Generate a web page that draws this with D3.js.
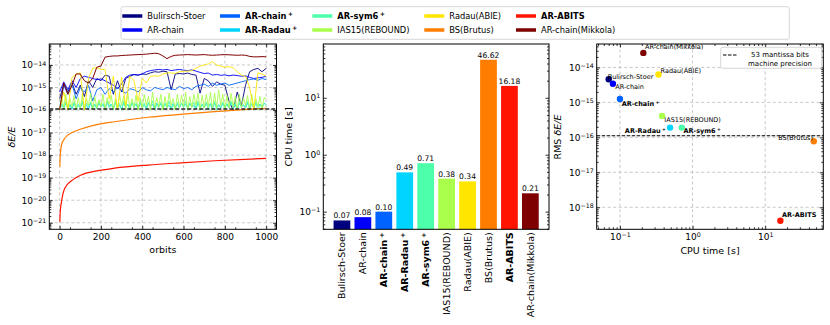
<!DOCTYPE html>
<html><head><meta charset="utf-8">
<script src="https://cdn.jsdelivr.net/npm/d3@7"></script>
<style>
body{margin:0;background:#fff;}
svg{font-family:"DejaVu Sans",sans-serif;}
</style></head><body><svg id="c" width="830" height="325"></svg>
<script>
// ---------------- DATA ----------------
const methods = ["Bulirsch-Stoer","AR-chain","AR-chain","AR-Radau","AR-sym6","IAS15(REBOUND)","Radau(ABIE)","BS(Brutus)","AR-ABITS","AR-chain(Mikkola)"];
const hasPlus = [false,false,true,true,true,false,false,false,false,false];
const isBold  = [false,false,true,true,true,false,false,false,true,false];
const colors  = ["#00007f","#0000fa","#0063ff","#00d4ff","#4dffaa","#aaff4d","#ffe600","#ff7d00","#ff1400","#7f0000"];
const cpuTime = [0.07,0.08,0.10,0.49,0.71,0.38,0.34,46.62,16.18,0.21];
const rmsErr  = [4.6e-15,3.4e-15,1.25e-15,1.9e-16,1.9e-16,4.1e-16,6.3e-15,7.7e-17,4.1e-19,2.6e-14];
const machinePrecision = 1.11e-16;

const orbitsCoarse = [0,20,40,60,80,100,120,140,160,180,200,220,240,260,280,300,320,340,360,380,400,420,440,460,480,500,520,540,560,580,600,620,640,660,680,700,720,740,760,780,800,820,840,860,880,900,920,940,960,980,1000];
const orbitsFine = [0,10,20,30,40,50,60,70,80,90,100,110,120,130,140,150,160,170,180,190,200,210,220,230,240,250,260,270,280,290,300,310,320,330,340,350,360,370,380,390,400,410,420,430,440,450,460,470,480,490,500,510,520,530,540,550,560,570,580,590,600,610,620,630,640,650,660,670,680,690,700,710,720,730,740,750,760,770,780,790,800,810,820,830,840,850,860,870,880,890,900,910,920,930,940,950,960,970,980,990,1000];
const orbitsSmooth = [1,3,9,25,60,104,180,266,428,589,750,1000];

// log10(dE/E)
const logBS = [-15.5,-14.85,-15.2,-14.8,-15.3,-14.9,-15.4,-14.7,-15.0,-14.6,-14.7,-14.45,-14.5,-15.3,-14.7,-15.2,-14.6,-14.5,-14.43,-14.45,-14.4,-14.42,-14.35,-14.3,-14.32,-14.28,-14.3,-15.1,-14.4,-14.38,-14.4,-14.36,-14.42,-14.45,-15.25,-14.6,-14.7,-14.95,-14.75,-14.85,-14.9,-15.6,-16,-15.2,-15.8,-14.9,-14.3,-14.2,-14.15,-14.3,-14.15];
const logARchain = [-15.2,-14.75,-15.1,-14.7,-15.0,-14.6,-14.5,-14.55,-14.6,-14.65,-14.62,-14.7,-14.8,-14.9,-15.05,-14.85,-14.55,-14.45,-14.42,-14.45,-14.4,-14.3,-14.25,-14.22,-14.2,-14.22,-14.2,-14.25,-14.22,-14.2,-14.23,-14.25,-14.22,-14.27,-14.33,-14.38,-14.36,-14.45,-14.42,-14.46,-14.44,-14.48,-14.45,-14.47,-14.5,-14.48,-14.55,-14.6,-14.57,-14.55,-14.5];
const logARchainP = [-16,-14.9,-15.3,-14.85,-15.5,-15.0,-15.2,-14.9,-15.6,-15.1,-15.0,-15.3,-15.05,-15.2,-15.0,-15.15,-15.25,-15.05,-15.1,-15.2,-15.0,-15.1,-15.15,-15.0,-15.05,-15.1,-15.0,-15.05,-15.1,-14.95,-15.05,-15.0,-15.1,-14.95,-14.9,-14.85,-14.95,-14.8,-14.9,-14.85,-14.8,-14.9,-14.85,-14.8,-14.75,-14.7,-14.65,-14.62,-14.68,-14.6,-14.65];
const logARradauP = [-16,-15.75,-15.9,-15.7,-15.85,-15.8,-15.95,-15.7,-15.85,-15.75,
 -15.9,-15.7,-15.85,-15.8,-15.95,-15.7,-15.85,-15.75,-15.9,-15.7,
 -15.85,-15.75,-15.95,-15.7,-15.8,-15.75,-15.9,-15.7,-15.85,-15.8,
 -15.95,-15.7,-15.85,-15.75,-15.9,-15.7,-15.8,-15.75,-15.95,-15.7,
 -15.85,-15.8,-15.9,-15.7,-15.85,-15.75,-15.95,-15.7,-15.8,-15.75,
 -15.9,-15.7,-15.85,-15.8,-15.95,-15.7,-15.85,-15.75,-15.9,-15.7,
 -15.8,-15.75,-15.9,-15.7,-15.85,-15.8,-15.95,-15.7,-15.85,-15.75,
 -15.9,-15.7,-15.8,-15.75,-15.95,-15.7,-15.85,-15.8,-15.9,-15.7,
 -15.85,-15.75,-15.9,-15.7,-15.8,-15.75,-15.95,-15.7,-15.85,-15.8,
 -15.9,-15.7,-15.85,-15.75,-15.9,-15.7,-15.8,-15.75,-15.85,-15.7,-15.75];
const logARsym6P = [-16,-15.7,-15.95,-15.6,-16,-15.75,-15.9,-15.65,-16,-15.8,
 -15.9,-15.6,-16,-15.7,-15.85,-15.65,-16,-15.75,-15.95,-15.6,
 -15.85,-15.7,-16,-15.6,-15.9,-15.75,-16,-15.65,-15.9,-15.7,
 -16,-15.6,-15.85,-15.75,-16,-15.65,-15.9,-15.7,-15.95,-15.6,
 -15.9,-15.7,-16,-15.65,-15.85,-15.6,-16,-15.75,-15.9,-15.65,
 -16,-15.7,-15.9,-15.6,-15.95,-15.75,-16,-15.65,-15.85,-15.7,
 -15.9,-15.6,-16,-15.7,-15.85,-15.65,-15.95,-15.6,-16,-15.75,
 -15.9,-15.65,-16,-15.7,-15.85,-15.6,-16,-15.75,-15.9,-15.65,
 -16,-15.7,-15.9,-15.6,-15.95,-15.7,-16,-15.65,-15.85,-15.75,
 -15.9,-15.6,-16,-15.7,-15.85,-15.65,-16,-15.75,-15.9,-15.7,-15.8];
const logIAS15 = [-16,-15.4,-15.9,-15.3,-16,-15.5,-15.85,-15.35,-16,-15.45,
 -15.9,-15.3,-15.95,-15.5,-15.8,-15.25,-16,-15.4,-15.9,-15.55,
 -15.85,-15.3,-16,-15.45,-15.75,-15.35,-15.95,-15.5,-16,-15.3,
 -15.8,-15.4,-16,-15.25,-15.9,-15.5,-15.85,-15.35,-16,-15.45,
 -15.9,-15.3,-15.8,-15.4,-16,-15.2,-15.9,-15.45,-15.85,-15.3,
 -16,-15.4,-15.9,-15.25,-15.8,-15.5,-16,-15.3,-15.9,-15.35,
 -15.85,-15.2,-16,-15.4,-15.9,-15.3,-15.8,-15.25,-16,-15.35,
 -15.9,-15.3,-15.85,-15.2,-16,-15.25,-15.9,-15.1,-15.8,-15.3,
 -16,-15.35,-15.9,-15.25,-15.85,-15.4,-16,-15.3,-15.9,-15.45,
 -15.8,-15.35,-16,-15.3,-15.9,-15.5,-15.85,-15.4,-16,-15.45,-15.5];
const logRadau = [-16,-15.2,-16,-14.55,-14.4,-14.35,-16,-14.6,-14.15,-14.12,-14.2,-14.2,-15.5,-14.5,-16,-14.55,-15.8,-14.5,-14.7,-15.6,-14.6,-14.8,-14.5,-14.48,-14.5,-14.4,-14.36,-14.35,-14.38,-14.3,-14.28,-14.27,-14.25,-14.15,-14.05,-14.0,-13.95,-13.85,-14.0,-14.05,-14.1,-14.08,-14.12,-14.3,-14.45,-14.5,-15.0,-16,-14.35,-14.4,-14.5];
const logBrutus = [-18.51,-18.0,-17.55,-17.25,-17.0,-16.84,-16.65,-16.52,-16.32,-16.19,-16.07,-15.92];
const logABITS  = [-20.96,-20.51,-20.07,-19.47,-19.12,-18.88,-18.7,-18.58,-18.44,-18.34,-18.25,-18.14];
const logMikkola = [-16,-14.8,-15.3,-14.9,-14.4,-14.4,-14.7,-14.8,-14.6,-14.1,-14.05,-13.65,-13.62,-13.6,-13.6,-13.58,-13.57,-13.56,-13.55,-13.54,-13.53,-13.52,-13.5,-13.48,-13.5,-13.6,-13.72,-13.62,-13.57,-13.56,-13.55,-13.54,-13.55,-13.56,-13.55,-13.54,-13.56,-13.57,-13.56,-13.55,-13.54,-13.55,-13.56,-13.57,-13.56,-13.57,-13.62,-13.64,-13.64,-13.63,-13.64];

const xTicksOrbits = [0,200,400,600,800,1000];

// ---------------- DRAW ----------------
const svg = d3.select("#c");
const MINUS = "\u2212";

function majorsMinors(lo, hi){
  const maj=[], min=[];
  for(let d=Math.floor(Math.log10(lo))-1; d<=Math.ceil(Math.log10(hi)); d++){
    const v=Math.pow(10,d);
    if(v>=lo*0.9999 && v<=hi*1.0001) maj.push(v);
    for(let k=2;k<=9;k++){const m=k*v; if(m>=lo && m<=hi) min.push(m);}
  }
  return {maj,min};
}
function powLabel(text, v, fs){
  const e=Math.round(Math.log10(v));
  text.text("");
  text.append("tspan").text("10");
  text.append("tspan").attr("dy","-0.45em").attr("font-size",(fs*0.7)+"px").text(e<0?MINUS+(-e):String(e));
}
function ticks(g, axisFn, scale, vals, size, pad, labelFn, fs){
  const ax=axisFn(scale).tickValues(vals).tickSizeInner(-size).tickSizeOuter(0).tickPadding(pad)
    .tickFormat(labelFn?(()=>"x"):(()=>""));
  g.call(ax);
  g.select(".domain").remove();
  g.selectAll(".tick line").attr("stroke","#000").attr("stroke-width",0.8);
  g.selectAll("text").attr("font-family","DejaVu Sans").attr("font-size",fs+"px").attr("fill","#000");
  if(labelFn) g.selectAll(".tick text").each(function(d){labelFn(d3.select(this),d);});
  return g;
}
function grid(g, xs, ys, x, y, X0,X1,Y0,Y1){
  g.selectAll(null).data(xs).enter().append("line")
    .attr("x1",d=>x(d)).attr("x2",d=>x(d)).attr("y1",Y0).attr("y2",Y1)
    .attr("stroke","#b0b0b0").attr("stroke-width",0.7).attr("stroke-dasharray","3,2.5");
  g.selectAll(null).data(ys).enter().append("line")
    .attr("y1",d=>y(d)).attr("y2",d=>y(d)).attr("x1",X0).attr("x2",X1)
    .attr("stroke","#b0b0b0").attr("stroke-width",0.7).attr("stroke-dasharray","3,2.5");
}
function logAxes(g, scale, side, X0,X1,Y0,Y1, labels, fs){
  const d=scale.domain(); const mm=majorsMinors(Math.min(d[0],d[1]),Math.max(d[0],d[1]));
  if(side==="y"){
    ticks(g.append("g").attr("transform",`translate(${X0},0)`), d3.axisLeft, scale, mm.maj, 3.5, 3, labels?(t,v)=>powLabel(t,v,fs):null, fs);
    ticks(g.append("g").attr("transform",`translate(${X0},0)`), d3.axisLeft, scale, mm.min, 2, 3, null, fs);
    ticks(g.append("g").attr("transform",`translate(${X1},0)`), d3.axisRight, scale, mm.maj, 3.5, 3, null, fs);
    ticks(g.append("g").attr("transform",`translate(${X1},0)`), d3.axisRight, scale, mm.min, 2, 3, null, fs);
  } else {
    ticks(g.append("g").attr("transform",`translate(0,${Y1})`), d3.axisBottom, scale, mm.maj, 3.5, 4, labels?(t,v)=>powLabel(t,v,fs):null, fs);
    ticks(g.append("g").attr("transform",`translate(0,${Y1})`), d3.axisBottom, scale, mm.min, 2, 4, null, fs);
    ticks(g.append("g").attr("transform",`translate(0,${Y0})`), d3.axisTop, scale, mm.maj, 3.5, 4, null, fs);
    ticks(g.append("g").attr("transform",`translate(0,${Y0})`), d3.axisTop, scale, mm.min, 2, 4, null, fs);
  }
  return mm;
}
function frame(X0,X1,Y0,Y1){
  svg.append("rect").attr("x",X0).attr("y",Y0).attr("width",X1-X0).attr("height",Y1-Y0)
    .attr("fill","none").attr("stroke","#000").attr("stroke-width",1);
}
function methodText(t, i, fs){
  t.append("tspan").attr("font-weight",isBold[i]?"bold":"normal").text(methods[i]);
  if(hasPlus[i]) t.append("tspan").attr("font-weight","bold").attr("dx",(fs*0.2)+"px").attr("dy","-0.45em").attr("font-size",(fs*0.7)+"px").text("+");
}
const TICK_FS=9;

// ===== Panel 1: dE/E vs orbits =====
{
  const X0=49.3,X1=276.5,Y0=44,Y1=229.3;
  const x=d3.scaleLinear().domain([-50,1050]).range([X0,X1]);
  const y=d3.scaleLog().domain([Math.pow(10,-21.29),Math.pow(10,-13.07)]).range([Y1,Y0]);
  const g=svg.append("g");
  const mm=majorsMinors(y.domain()[0],y.domain()[1]);
  grid(g, xTicksOrbits, mm.maj, x, y, X0,X1,Y0,Y1);
  svg.append("clipPath").attr("id","clip1").append("rect").attr("x",X0).attr("y",Y0).attr("width",X1-X0).attr("height",Y1-Y0);
  const lines=svg.append("g").attr("clip-path","url(#clip1)");
  const series=[
    [orbitsCoarse,logBS,0,0.9],[orbitsCoarse,logARchain,1,0.9],[orbitsCoarse,logARchainP,2,0.9],
    [orbitsFine,logARradauP,3,0.9],[orbitsFine,logARsym6P,4,0.9],[orbitsFine,logIAS15,5,0.9],
    [orbitsCoarse,logRadau,6,0.9],[orbitsSmooth,logBrutus,7,1.2],[orbitsSmooth,logABITS,8,1.2],[orbitsCoarse,logMikkola,9,1.0]
  ];
  const line=d3.line().x(d=>x(d[0])).y(d=>y(Math.pow(10,d[1]))).curve(d3.curveMonotoneX);
  const lineL=d3.line().x(d=>x(d[0])).y(d=>y(Math.pow(10,d[1])));
  series.forEach(([xs,ys,ci,w])=>{
    const pts=xs.map((o,k)=>[o,ys[k]]);
    lines.append("path").attr("d",(ci===7||ci===8)?line(pts):lineL(pts)).attr("fill","none")
      .attr("stroke",colors[ci]).attr("stroke-width",w).attr("stroke-linejoin","round");
  });
  lines.append("line").attr("x1",X0).attr("x2",X1).attr("y1",y(machinePrecision)).attr("y2",y(machinePrecision))
    .attr("stroke","#222").attr("stroke-width",1.4).attr("stroke-dasharray","4,2");
  logAxes(g, y, "y", X0,X1,Y0,Y1, true, TICK_FS);
  const xmin=[]; for(let v=50; v<1050; v+=100) xmin.push(v);
  ticks(g.append("g").attr("transform",`translate(0,${Y1})`), d3.axisBottom, x, xTicksOrbits, 3.5, 4, (t,v)=>t.text(v), TICK_FS);
  ticks(g.append("g").attr("transform",`translate(0,${Y1})`), d3.axisBottom, x, xmin, 2, 4, null, TICK_FS);
  ticks(g.append("g").attr("transform",`translate(0,${Y0})`), d3.axisTop, x, xTicksOrbits, 3.5, 4, null, TICK_FS);
  ticks(g.append("g").attr("transform",`translate(0,${Y0})`), d3.axisTop, x, xmin, 2, 4, null, TICK_FS);
  frame(X0,X1,Y0,Y1);
  svg.append("text").attr("x",(X0+X1)/2).attr("y",253).attr("text-anchor","middle").attr("font-size","9.5px").text("orbits");
  svg.append("text").attr("transform",`translate(15,137) rotate(-90)`).attr("text-anchor","middle")
    .attr("font-size","9.5px").attr("font-style","italic").text("\u03b4E/E");
}

// ===== Panel 2: CPU time bars =====
{
  const X0=323.3,X1=549,Y0=44,Y1=229.3;
  const x=d3.scaleLinear().domain([-0.89,9.89]).range([X0,X1]);
  const y=d3.scaleLog().domain([Math.pow(10,-1.31),Math.pow(10,1.945)]).range([Y1,Y0]);
  const g=svg.append("g");
  const bw=x(0.8)-x(0);
  g.selectAll("rect.bar").data(cpuTime).enter().append("rect").attr("class","bar")
    .attr("x",(d,i)=>x(i)-bw/2).attr("width",bw).attr("y",d=>y(d)).attr("height",d=>Y1-y(d))
    .attr("fill",(d,i)=>colors[i]);
  g.selectAll("text.val").data(cpuTime).enter().append("text").attr("class","val")
    .attr("x",(d,i)=>x(i)).attr("y",d=>y(d)-2).attr("text-anchor","middle").attr("font-size","7.6px")
    .text(d=>d.toFixed(2));
  logAxes(g, y, "y", X0,X1,Y0,Y1, true, TICK_FS);
  frame(X0,X1,Y0,Y1);
  methods.forEach((m,i)=>{
    const t=svg.append("text").attr("transform",`translate(${x(i)},${Y1+3}) rotate(-90)`)
      .attr("text-anchor","end").attr("dy","0.35em").attr("font-size","9.5px");
    methodText(t,i,9.5);
  });
  svg.append("text").attr("transform",`translate(292,137) rotate(-90)`).attr("text-anchor","middle")
    .attr("font-size","9.5px").text("CPU time [s]");
}

// ===== Panel 3: RMS vs CPU =====
{
  const X0=596.7,X1=823.3,Y0=44,Y1=229.3;
  const x=d3.scaleLog().domain([Math.pow(10,-1.32),Math.pow(10,1.80)]).range([X0,X1]);
  const y=d3.scaleLog().domain([Math.pow(10,-18.63),Math.pow(10,-13.33)]).range([Y1,Y0]);
  const g=svg.append("g");
  const mx=majorsMinors(x.domain()[0],x.domain()[1]), my=majorsMinors(y.domain()[0],y.domain()[1]);
  grid(g, mx.maj, my.maj, x, y, X0,X1,Y0,Y1);
  g.append("line").attr("x1",X0).attr("x2",X1).attr("y1",y(machinePrecision)).attr("y2",y(machinePrecision))
    .attr("stroke","#000").attr("stroke-width",1.1).attr("stroke-dasharray","3.5,1.5");
  logAxes(g, y, "y", X0,X1,Y0,Y1, true, TICK_FS);
  logAxes(g, x, "x", X0,X1,Y0,Y1, true, TICK_FS);
  frame(X0,X1,Y0,Y1);
  g.selectAll("circle").data(cpuTime).enter().append("circle")
    .attr("cx",d=>x(d)).attr("cy",(d,i)=>y(rmsErr[i])).attr("r",3.2).attr("fill",(d,i)=>colors[i]);
  // label offsets [dx, dy, anchor]
  const off=[[-1,-2.3,"start"],[2.4,3.4,"start"],[1.7,4.3,"start"],[-4.3,3,"end"],[1.7,3.4,"start"],
             [2.3,4,"start"],[2,-3.6,"start"],[-0.7,-4,"end"],[1.7,-5.7,"start"],[1.7,-5.7,"start"]];
  methods.forEach((m,i)=>{
    const t=svg.append("text").attr("x",x(cpuTime[i])+off[i][0]).attr("y",y(rmsErr[i])+off[i][1])
      .attr("dy","0.35em").attr("text-anchor",off[i][2]).attr("font-size","6.5px");
    methodText(t,i,6.5);
  });
  // legend
  svg.append("rect").attr("x",720.7).attr("y",47.3).attr("width",101).attr("height",21).attr("rx",2)
    .attr("fill","#fff").attr("stroke","#ccc").attr("stroke-width",0.8);
  svg.append("line").attr("x1",723).attr("x2",738).attr("y1",55).attr("y2",55)
    .attr("stroke","#000").attr("stroke-width",1.1).attr("stroke-dasharray","3.5,1.5");
  svg.append("text").attr("x",780).attr("y",55).attr("dy","0.35em").attr("text-anchor","middle").attr("font-size","7px").text("53 mantissa bits");
  svg.append("text").attr("x",780).attr("y",63.5).attr("dy","0.35em").attr("text-anchor","middle").attr("font-size","7px").text("machine precision");
  svg.append("text").attr("x",(X0+X1)/2).attr("y",254).attr("text-anchor","middle").attr("font-size","9.5px").text("CPU time [s]");
  const yl=svg.append("text").attr("transform",`translate(561,137) rotate(-90)`).attr("text-anchor","middle").attr("font-size","9.5px");
  yl.append("tspan").text("RMS ");
  yl.append("tspan").attr("font-style","italic").text("\u03b4E/E");
}

// ===== Legend =====
{
  svg.append("rect").attr("x",121).attr("y",6.7).attr("width",668.3).attr("height",32.6).attr("rx",2)
    .attr("fill","#fff").attr("stroke","#ccc").attr("stroke-width",0.8);
  const colX=[122.3,220,312.3,424.3,516,599.3];
  const rowY=[16,30];
  methods.forEach((m,i)=>{
    const c=Math.floor(i/2), r=i%2;
    svg.append("line").attr("x1",colX[c]).attr("x2",colX[c]+20).attr("y1",rowY[r]).attr("y2",rowY[r])
      .attr("stroke",colors[i]).attr("stroke-width",3.5);
    const t=svg.append("text").attr("x",colX[c]+25).attr("y",rowY[r]).attr("dy","0.35em").attr("font-size","8.3px");
    methodText(t,i,8.3);
  });
}
</script></body></html>
